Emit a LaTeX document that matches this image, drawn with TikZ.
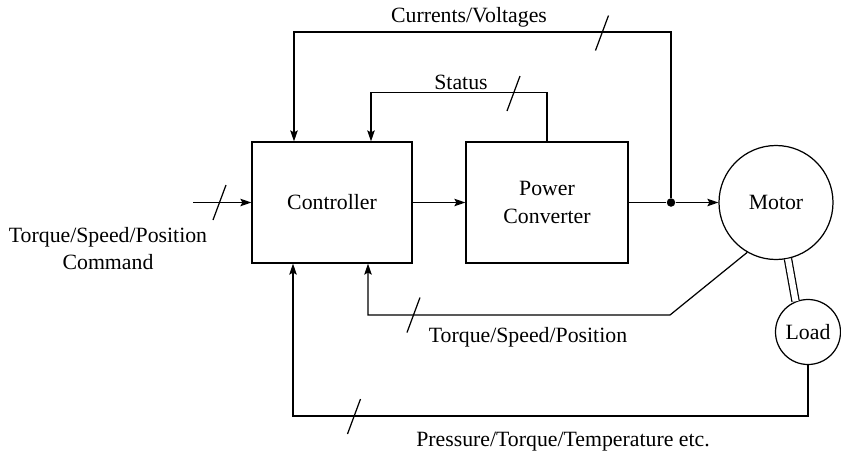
\documentclass[tikz,border=0pt]{standalone}
\usepackage{fontspec}
\setmainfont{Liberation Serif}
\usetikzlibrary{arrows.meta,positioning,calc}
\tikzset{
  >={Stealth[length=2.2mm,width=1.5mm,inset=0.4mm]},
  block/.style ={rectangle,draw,line width=0.7pt,align=center,minimum width=3.2cm,minimum height=2.42cm},
  mach/.style  ={circle,draw,line width=0.7pt,align=center,inner sep=0pt},
  tap/.style   ={circle,fill,inner sep=0pt,minimum size=0.17cm},
  sig/.style   ={->,line width=0.7pt},
  wire/.style  ={line width=0.7pt},
  busmark/.pic ={\draw[line width=0.7pt] (0.13,0.35) -- (-0.13,-0.35);},
}

\begin{document}
\begin{tikzpicture}[font=\fontsize{12.4}{15.5}\selectfont]
  \useasboundingbox (0,0) rectangle (16.82,-9.0);

  \node[block]  (ctrl)  at (6.64,-4.05)  {Controller};
  \node[block,minimum width=3.24cm] (pc) at (10.94,-4.05) {Power\\Converter};
  \node[mach,minimum size=2.28cm] (motor) at (15.52,-4.05) {Motor};
  \node[mach,minimum size=1.3cm]  (load)  at (16.16,-6.64) {Load};
  \node[tap] (jn) at (13.42,-4.05) {};

  \coordinate (cmd) at (3.86,-4.05);
  \coordinate (cvk) at (13.42,-0.64);
  \coordinate (fbk) at (13.4,-6.3);
  \coordinate (ldk) at (16.16,-8.32);

  % forward path
  \draw[sig]  (cmd) -- (ctrl);
  \draw[sig]  (ctrl) -- (pc);
  \draw[wire] (pc) -- (jn);
  \draw[sig]  (jn) -- (motor);
  \draw[wire,double,double distance=0.12cm] (motor.282) -- (load.112);

  % feedback paths
  \draw[sig] (jn) -- (cvk) -| ([xshift=-0.76cm]ctrl.north);
  \draw[sig] (pc.north) -- ++(0,0.98) -| ([xshift=0.78cm]ctrl.north);
  \draw[sig] (motor.240) -- (fbk) -| ([xshift=0.72cm]ctrl.south);
  \draw[sig] (load.south) -- (ldk) -| ([xshift=-0.78cm]ctrl.south);

  \pic at (4.39,-4.05)  {busmark};
  \pic at (12.04,-0.66) {busmark};
  \pic at (10.27,-1.87) {busmark};
  \pic at (8.27,-6.3)   {busmark};
  \pic at (7.08,-8.33)  {busmark};

  \node (cvlbl) at (9.38,-0.34)  {Currents/Voltages};
  \node (stlbl) at (9.22,-1.64)  {Status};
  \node (fblbl) at (10.56,-6.74) {Torque/Speed/Position};
  \node (ldlbl) at (11.26,-8.84) {Pressure/Torque/Temperature etc.};
  \node[align=center] (cmdlbl) at (2.16,-4.97) {Torque/Speed/Position\\Command};
\end{tikzpicture}
\end{document}
